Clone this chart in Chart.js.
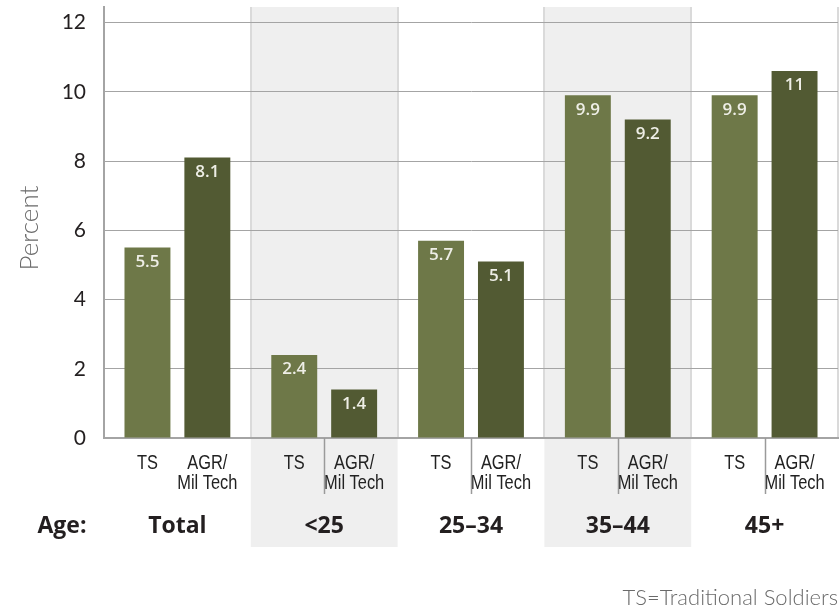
<!DOCTYPE html>
<html>
<head>
<meta charset="utf-8">
<script src="https://cdn.jsdelivr.net/npm/chart.js@4/dist/chart.umd.min.js"></script>
<style>
  html, body { margin: 0; padding: 0; background: #fff; }
  #wrap { width: 840px; height: 610px; }
</style>
</head>
<body>
<div id="wrap"><canvas id="chart"></canvas></div>
<script>
// data
const groups      = ['Total', '<25', '25–34', '35–44', '45+'];
const tsValues    = [5.5, 2.4, 5.7, 9.9, 9.9];
const agrValues   = [8.1, 1.4, 5.1, 9.2, 10.6];
const tsLabels    = ['5.5', '2.4', '5.7', '9.9', '9.9'];
const agrLabels   = ['8.1', '1.4', '5.1', '9.2', '11'];
const barNames    = [['TS'], ['AGR/', 'Mil Tech']];
const shadedGroups = [1, 3];
const yMax = 12;
const yStep = 2;

// colors / fonts
const TS_COLOR  = '#6e7848';
const AGR_COLOR = '#525a33';
const AXIS_COLOR = '#a4a4a4';
const BAND_COLOR = '#efefef';
const SANS = 'Lato, "Open Sans", sans-serif';
const BOLD = '"Open Sans", Lato, sans-serif';
const NARROW = '"Liberation Sans", Arial, sans-serif';

const html__canvas__chart = document.querySelector('#chart');

// shaded bands behind some groups, running down into the label area
const bandPlugin = {
    id: 'bands',
    beforeDraw(chart) {
        const { ctx, chartArea, scales } = chart;
        const x = scales.x;
        const w = (chartArea.right - chartArea.left) / groups.length;
        ctx.save();
        ctx.fillStyle = BAND_COLOR;
        shadedGroups.forEach(i => {
            const cx = x.getPixelForValue(i);
            ctx.fillRect(cx - w / 2, chartArea.top, w, 547 - chartArea.top);
        });
        ctx.restore();
    }
};

// value labels inside bars, bar names, group names, footnote
const labelPlugin = {
    id: 'labels',
    afterDatasetsDraw(chart) {
        const { ctx } = chart;
        const valueTexts = [tsLabels, agrLabels];
        ctx.save();
        ctx.fillStyle = '#eeeee6';
        ctx.font = '600 17px ' + BOLD;
        ctx.textAlign = 'center';
        ctx.textBaseline = 'top';
        chart.data.datasets.forEach((ds, d) => {
            chart.getDatasetMeta(d).data.forEach((bar, i) => {
                ctx.fillText(valueTexts[d][i], bar.x, bar.y + 6);
            });
        });
        ctx.restore();
    },
    afterDraw(chart) {
        const { ctx, chartArea, scales } = chart;
        const x = scales.x;
        const axisY = chartArea.bottom;
        ctx.save();
        // bar names, condensed like the original narrow face
        ctx.fillStyle = '#222';
        ctx.font = '20px ' + NARROW;
        ctx.textAlign = 'center';
        ctx.textBaseline = 'alphabetic';
        chart.data.datasets.forEach((ds, d) => {
            chart.getDatasetMeta(d).data.forEach(bar => {
                barNames[d].forEach((line, k) => {
                    ctx.save();
                    ctx.translate(bar.x, 469 + k * 20);
                    ctx.scale(0.82, 1);
                    ctx.fillText(line, 0, 0);
                    ctx.restore();
                });
            });
        });
        // separators between bar names
        ctx.strokeStyle = '#9a9a9a';
        ctx.lineWidth = 1.5;
        groups.forEach((g, i) => {
            if (i === 0) return;
            const cx = Math.round(x.getPixelForValue(i)) + 0.5;
            ctx.beginPath();
            ctx.moveTo(cx, axisY);
            ctx.lineTo(cx, 494);
            ctx.stroke();
        });
        // group names
        ctx.fillStyle = '#231f20';
        ctx.font = 'bold 23px ' + BOLD;
        groups.forEach((g, i) => {
            ctx.fillText(g, x.getPixelForValue(i), 533);
        });
        ctx.fillText('Age:', 62, 533);
        // y axis title
        ctx.save();
        ctx.translate(30, 228);
        ctx.rotate(-Math.PI / 2);
        ctx.fillStyle = '#6a6a6a';
        ctx.font = '300 26px ' + SANS;
        ctx.textBaseline = 'middle';
        ctx.fillText('Percent', 0, 0);
        ctx.restore();
        // footnote
        ctx.fillStyle = '#6a6a6a';
        ctx.font = '300 22px ' + SANS;
        ctx.textAlign = 'right';
        ctx.fillText('TS=Traditional Soldiers', 838, 605);
        ctx.restore();
    }
};

function BAR_Chart() {
    const data = {
        labels: groups,
        datasets: [
            {
                label: 'TS',
                data: tsValues,
                backgroundColor: TS_COLOR,
                categoryPercentage: 0.816,
                barPercentage: 0.767
            },
            {
                label: 'AGR/Mil Tech',
                data: agrValues,
                backgroundColor: AGR_COLOR,
                categoryPercentage: 0.816,
                barPercentage: 0.767
            }
        ]
    };
    const config = {
        type: 'bar',
        data: data,
        options: {
            responsive: true,
            maintainAspectRatio: false,
            animation: false,
            layout: { padding: { top: 7, right: 2, left: 0, bottom: 0 } },
            plugins: {
                legend: { display: false },
                tooltip: { enabled: false }
            },
            scales: {
                x: {
                    grid: {
                        drawTicks: false,
                        lineWidth: 2,
                        color: ctx => ctx.index === groups.length ? AXIS_COLOR : '#dadada'
                    },
                    border: { color: AXIS_COLOR, width: 2 },
                    ticks: { display: false },
                    afterFit: scale => { scale.height = 172; }
                },
                y: {
                    min: 0,
                    max: yMax + 0.45,
                    grid: { drawTicks: false, color: AXIS_COLOR, lineWidth: 1 },
                    border: { color: AXIS_COLOR, width: 2 },
                    ticks: {
                        stepSize: yStep,
                        includeBounds: false,
                        padding: 18,
                        color: '#231f20',
                        font: { family: SANS, size: 21 }
                    },
                    afterFit: scale => {
                        scale.width = 104;
                        scale.paddingTop = 0;
                        scale.paddingBottom = 0;
                    }
                }
            }
        },
        plugins: [bandPlugin, labelPlugin]
    };
    const chart_bar = new Chart(html__canvas__chart, config);
}

BAR_Chart();
</script>
</body>
</html>
